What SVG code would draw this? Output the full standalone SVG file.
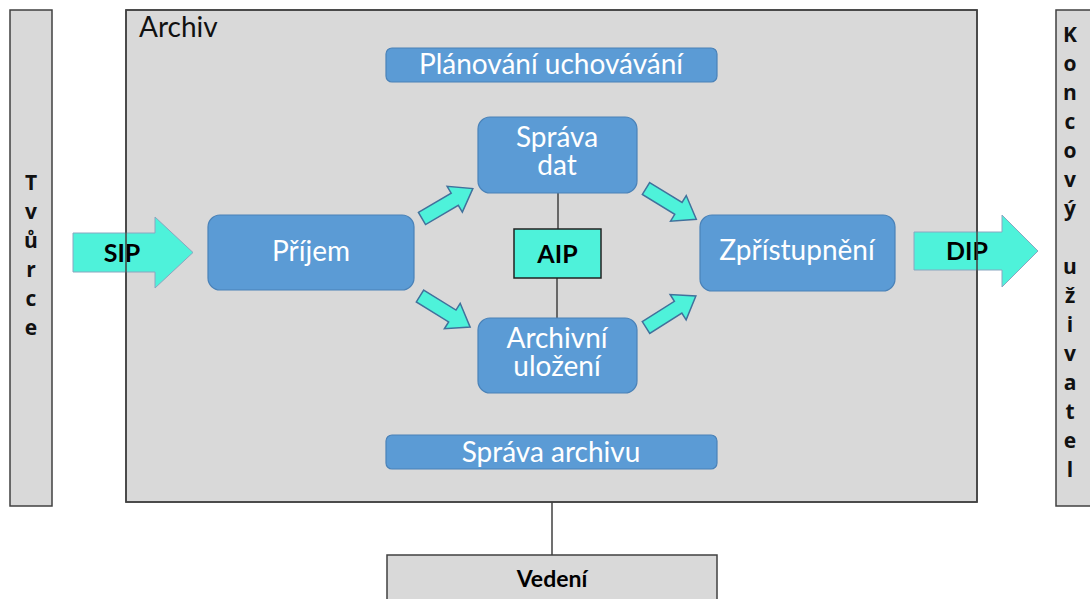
<svg xmlns="http://www.w3.org/2000/svg" width="1090" height="599" viewBox="0 0 1090 599">
<style>
.gray{fill:#D9D9D9;stroke:#404040;stroke-width:1.5}
.blue{fill:#5B9BD5;stroke:#4A82B8;stroke-width:1.2}
.wt{font-family:Lato,"Open Sans","Liberation Sans",sans-serif;fill:#FFFFFF;text-anchor:middle;font-size:28px}
.bk{font-family:Lato,"Open Sans","Liberation Sans",sans-serif;fill:#000000;font-weight:bold;text-anchor:middle}
.vert{font-family:"Open Sans",Lato,"Liberation Sans",sans-serif;fill:#111;font-weight:bold;font-size:21px;text-anchor:middle}
.big{fill:#4EF2DA;stroke:#8AA6C0;stroke-width:1}
.small{fill:#4EF2DA;stroke:#41719C;stroke-width:1.5;stroke-linejoin:miter}
.ln{stroke:#404040;stroke-width:1.5;fill:none}
</style>
<defs>
<path id="sarrow" d="M0,-7 L38,-7 L38,-15 L59,0 L38,15 L38,7 L0,7 Z"/>
</defs>
<rect width="1090" height="599" fill="#FFFFFF"/>
<g id="archiv">
<rect x="126" y="10" width="851" height="492" class="gray"/>
<text x="139" y="37" font-family="Lato,'Open Sans','Liberation Sans',sans-serif" font-size="28" fill="#111">Archiv</text>
</g>
<g id="tvurce">
<rect x="10" y="10" width="42" height="496" class="gray"/>
<text class="vert"><tspan x="31" y="190">T</tspan><tspan x="31" y="219">v</tspan><tspan x="31" y="248">ů</tspan><tspan x="31" y="277">r</tspan><tspan x="31" y="306">c</tspan><tspan x="31" y="335">e</tspan></text>
</g>
<g id="koncovy-uzivatel">
<rect x="1056" y="10" width="45" height="496" class="gray"/>
<text class="vert"><tspan x="1070" y="42">K</tspan><tspan x="1070" y="71">o</tspan><tspan x="1070" y="100">n</tspan><tspan x="1070" y="129">c</tspan><tspan x="1070" y="158">o</tspan><tspan x="1070" y="187">v</tspan><tspan x="1070" y="216">ý</tspan><tspan x="1070" y="274">u</tspan><tspan x="1070" y="303">ž</tspan><tspan x="1070" y="332">i</tspan><tspan x="1070" y="361">v</tspan><tspan x="1070" y="390">a</tspan><tspan x="1070" y="419">t</tspan><tspan x="1070" y="448">e</tspan><tspan x="1070" y="477">l</tspan></text>
</g>
<g id="connectors">
<path class="big" d="M73,233 L155,233 L155,217 L193,252.5 L155,288 L155,272 L73,272 Z"/>
<text x="122" y="262" class="bk" font-size="25">SIP</text>
<path class="big" d="M914,232 L1002,232 L1002,215 L1038,251 L1002,287 L1002,270 L914,270 Z"/>
<text x="967" y="260" class="bk" font-size="25">DIP</text>
<use href="#sarrow" class="small" transform="translate(422,218.5) rotate(-30.5)"/>
<use href="#sarrow" class="small" transform="translate(420,296) rotate(31.8)"/>
<use href="#sarrow" class="small" transform="translate(646,188.5) rotate(31.5)"/>
<use href="#sarrow" class="small" transform="translate(646,327.5) rotate(-32.3)"/>
<line class="ln" x1="558" y1="193" x2="558" y2="229"/>
<line class="ln" x1="557" y1="278" x2="557" y2="318"/>
<line class="ln" x1="552" y1="502" x2="552" y2="555"/>
</g>
<rect x="126" y="10" width="851" height="492" fill="none" stroke="#404040" stroke-width="1.5"/>
<g id="planovani-uchovavani">
<rect x="386" y="48" width="331" height="34" rx="6" class="blue"/>
<text x="551" y="74" class="wt" font-size="27">Plánování uchovávání</text>
</g>
<g id="prijem">
<rect x="208" y="215" width="206" height="75" rx="12" class="blue"/>
<text x="311" y="261" class="wt">Příjem</text>
</g>
<g id="sprava-dat">
<rect x="478" y="117" width="159" height="76" rx="12" class="blue"/>
<text class="wt"><tspan x="557" y="147">Správa</tspan><tspan x="557" y="175">dat</tspan></text>
</g>
<g id="aip">
<rect x="514" y="229" width="87" height="49" fill="#4EF2DA" stroke="#222" stroke-width="1.5"/>
<text x="557.5" y="263" class="bk" font-size="25">AIP</text>
</g>
<g id="archivni-ulozeni">
<rect x="478" y="318" width="159" height="75" rx="12" class="blue"/>
<text class="wt"><tspan x="557" y="348">Archivní</tspan><tspan x="557" y="376">uložení</tspan></text>
</g>
<g id="zpristupneni">
<rect x="700" y="215" width="195" height="76" rx="12" class="blue"/>
<text x="797" y="260" class="wt" font-size="29">Zpřístupnění</text>
</g>
<g id="sprava-archivu">
<rect x="386" y="435" width="331" height="34" rx="6" class="blue"/>
<text x="551" y="462" class="wt" font-size="27">Správa archivu</text>
</g>
<g id="vedeni">
<rect x="387" y="555" width="330" height="60" class="gray"/>
<text x="552" y="587" class="bk" font-size="23">Vedení</text>
</g>
</svg>
